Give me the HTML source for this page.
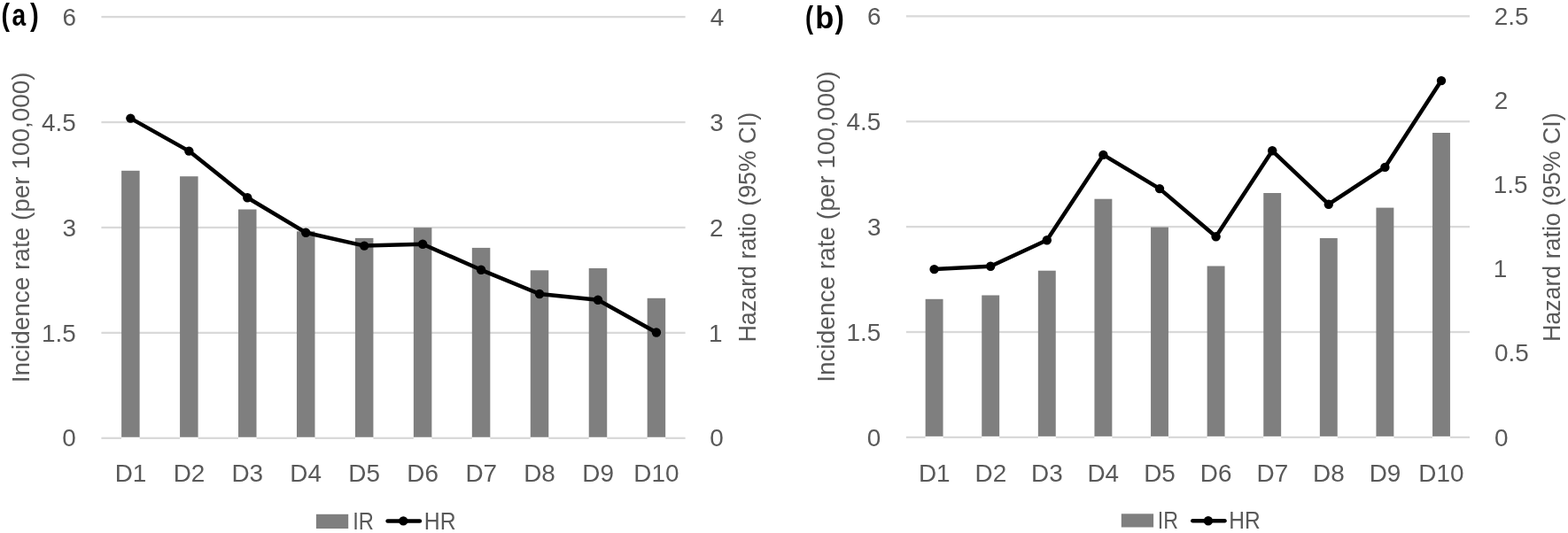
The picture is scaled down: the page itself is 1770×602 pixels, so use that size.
<!DOCTYPE html>
<html><head><meta charset="utf-8"><title>Incidence rate and hazard ratio by decile</title>
<style>
html,body{margin:0;padding:0;background:#fff;}
svg{display:block;}
text{font-family:'Liberation Sans', Arial, sans-serif;fill:#595959;}
</style></head>
<body>
<svg width="1770" height="602" viewBox="0 0 1770 602">
<rect width="1770" height="602" fill="#fff"/>
<rect x="114.4" y="17.95" width="659.2" height="2.3" fill="#d9d9d9"/>
<rect x="114.4" y="136.89" width="659.2" height="2.3" fill="#d9d9d9"/>
<rect x="114.4" y="255.83" width="659.2" height="2.3" fill="#d9d9d9"/>
<rect x="114.4" y="374.77" width="659.2" height="2.3" fill="#d9d9d9"/>
<rect x="114.4" y="493.71" width="659.2" height="2.3" fill="#d9d9d9"/>
<rect x="137.12" y="192.8" width="20.5" height="301.06" fill="#7f7f7f"/>
<rect x="137.12" y="493.86" width="20.5" height="2.4" fill="#fff"/>
<rect x="203.08" y="199.2" width="20.5" height="294.66" fill="#7f7f7f"/>
<rect x="203.08" y="493.86" width="20.5" height="2.4" fill="#fff"/>
<rect x="269.02" y="236.5" width="20.5" height="257.36" fill="#7f7f7f"/>
<rect x="269.02" y="493.86" width="20.5" height="2.4" fill="#fff"/>
<rect x="334.98" y="261.3" width="20.5" height="232.56" fill="#7f7f7f"/>
<rect x="334.98" y="493.86" width="20.5" height="2.4" fill="#fff"/>
<rect x="400.93" y="268.9" width="20.5" height="224.96" fill="#7f7f7f"/>
<rect x="400.93" y="493.86" width="20.5" height="2.4" fill="#fff"/>
<rect x="466.88" y="257.1" width="20.5" height="236.76" fill="#7f7f7f"/>
<rect x="466.88" y="493.86" width="20.5" height="2.4" fill="#fff"/>
<rect x="532.83" y="279.9" width="20.5" height="213.96" fill="#7f7f7f"/>
<rect x="532.83" y="493.86" width="20.5" height="2.4" fill="#fff"/>
<rect x="598.77" y="305.3" width="20.5" height="188.56" fill="#7f7f7f"/>
<rect x="598.77" y="493.86" width="20.5" height="2.4" fill="#fff"/>
<rect x="664.73" y="303" width="20.5" height="190.86" fill="#7f7f7f"/>
<rect x="664.73" y="493.86" width="20.5" height="2.4" fill="#fff"/>
<rect x="730.67" y="336.8" width="20.5" height="157.06" fill="#7f7f7f"/>
<rect x="730.67" y="493.86" width="20.5" height="2.4" fill="#fff"/>
<path d="M147.38,133.6 L213.33,170.6 L279.27,223.3 L345.23,262.7 L411.18,277.6 L477.12,275.7 L543.08,304.8 L609.02,332 L674.98,338.7 L740.92,375.5" fill="none" stroke="#000" stroke-width="4.5" stroke-linejoin="round" stroke-linecap="round"/>
<circle cx="147.38" cy="133.6" r="5.2" fill="#000"/>
<circle cx="213.33" cy="170.6" r="5.2" fill="#000"/>
<circle cx="279.27" cy="223.3" r="5.2" fill="#000"/>
<circle cx="345.23" cy="262.7" r="5.2" fill="#000"/>
<circle cx="411.18" cy="277.6" r="5.2" fill="#000"/>
<circle cx="477.12" cy="275.7" r="5.2" fill="#000"/>
<circle cx="543.08" cy="304.8" r="5.2" fill="#000"/>
<circle cx="609.02" cy="332" r="5.2" fill="#000"/>
<circle cx="674.98" cy="338.7" r="5.2" fill="#000"/>
<circle cx="740.92" cy="375.5" r="5.2" fill="#000"/>
<text x="70.47" y="28.7" font-size="27.9">6</text>
<text x="47.04" y="147.64" font-size="27.9">4.5</text>
<text x="70.47" y="266.58" font-size="27.9">3</text>
<text x="47.04" y="385.52" font-size="27.9">1.5</text>
<text x="70.19" y="504.46" font-size="27.9">0</text>
<text x="801.74" y="28.7" font-size="27.9">4</text>
<text x="801.18" y="147.64" font-size="27.9">3</text>
<text x="800.9" y="266.58" font-size="27.9">2</text>
<text x="800.07" y="385.52" font-size="27.9">1</text>
<text x="801.18" y="504.46" font-size="27.9">0</text>
<text x="129.7" y="543.6" font-size="27.9">D1</text>
<text x="195.65" y="543.6" font-size="27.9">D2</text>
<text x="261.46" y="543.6" font-size="27.9">D3</text>
<text x="327.27" y="543.6" font-size="27.9">D4</text>
<text x="393.36" y="543.6" font-size="27.9">D5</text>
<text x="459.31" y="543.6" font-size="27.9">D6</text>
<text x="525.4" y="543.6" font-size="27.9">D7</text>
<text x="591.21" y="543.6" font-size="27.9">D8</text>
<text x="657.3" y="543.6" font-size="27.9">D9</text>
<text x="715.3" y="543.6" font-size="27.9">D10</text>
<text transform="translate(33.4,432.31) rotate(-90)" x="0" y="0" font-size="27.9" textLength="350.99" lengthAdjust="spacingAndGlyphs">Incidence rate (per 100,000)</text>
<text transform="translate(852.9,386.55) rotate(-90)" x="0" y="0" font-size="27.9" textLength="259.76" lengthAdjust="spacingAndGlyphs">Hazard ratio (95% CI)</text>
<rect x="356.9" y="580.8" width="36.3" height="16.2" fill="#7f7f7f"/>
<text x="398.17" y="598.1" font-size="27.9" textLength="23.72" lengthAdjust="spacingAndGlyphs">IR</text>
<line x1="437.6" y1="588.4" x2="473.9" y2="588.4" stroke="#000" stroke-width="4.5" stroke-linecap="round"/>
<circle cx="455.3" cy="588.4" r="5.2" fill="#000"/>
<text x="478.72" y="598.1" font-size="27.9" textLength="35.83" lengthAdjust="spacingAndGlyphs">HR</text>
<rect x="1022.9" y="17.2" width="636.1" height="2.3" fill="#d9d9d9"/>
<rect x="1022.9" y="136.09" width="636.1" height="2.3" fill="#d9d9d9"/>
<rect x="1022.9" y="254.98" width="636.1" height="2.3" fill="#d9d9d9"/>
<rect x="1022.9" y="373.87" width="636.1" height="2.3" fill="#d9d9d9"/>
<rect x="1022.9" y="492.76" width="636.1" height="2.3" fill="#d9d9d9"/>
<rect x="1044.65" y="337.8" width="19.9" height="155.11" fill="#7f7f7f"/>
<rect x="1044.65" y="492.91" width="19.9" height="2.4" fill="#fff"/>
<rect x="1108.25" y="333.5" width="19.9" height="159.41" fill="#7f7f7f"/>
<rect x="1108.25" y="492.91" width="19.9" height="2.4" fill="#fff"/>
<rect x="1171.85" y="305.7" width="19.9" height="187.21" fill="#7f7f7f"/>
<rect x="1171.85" y="492.91" width="19.9" height="2.4" fill="#fff"/>
<rect x="1235.45" y="224.7" width="19.9" height="268.21" fill="#7f7f7f"/>
<rect x="1235.45" y="492.91" width="19.9" height="2.4" fill="#fff"/>
<rect x="1299.05" y="256.6" width="19.9" height="236.31" fill="#7f7f7f"/>
<rect x="1299.05" y="492.91" width="19.9" height="2.4" fill="#fff"/>
<rect x="1362.65" y="300.5" width="19.9" height="192.41" fill="#7f7f7f"/>
<rect x="1362.65" y="492.91" width="19.9" height="2.4" fill="#fff"/>
<rect x="1426.25" y="218" width="19.9" height="274.91" fill="#7f7f7f"/>
<rect x="1426.25" y="492.91" width="19.9" height="2.4" fill="#fff"/>
<rect x="1489.85" y="269" width="19.9" height="223.91" fill="#7f7f7f"/>
<rect x="1489.85" y="492.91" width="19.9" height="2.4" fill="#fff"/>
<rect x="1553.45" y="234.6" width="19.9" height="258.31" fill="#7f7f7f"/>
<rect x="1553.45" y="492.91" width="19.9" height="2.4" fill="#fff"/>
<rect x="1617.05" y="150" width="19.9" height="342.91" fill="#7f7f7f"/>
<rect x="1617.05" y="492.91" width="19.9" height="2.4" fill="#fff"/>
<path d="M1054.6,304.1 L1118.2,300.8 L1181.8,271.2 L1245.4,174.9 L1309,213.1 L1372.6,267.2 L1436.2,170.3 L1499.8,230.7 L1563.4,188.9 L1627,91.1" fill="none" stroke="#000" stroke-width="4.5" stroke-linejoin="round" stroke-linecap="round"/>
<circle cx="1054.6" cy="304.1" r="5.2" fill="#000"/>
<circle cx="1118.2" cy="300.8" r="5.2" fill="#000"/>
<circle cx="1181.8" cy="271.2" r="5.2" fill="#000"/>
<circle cx="1245.4" cy="174.9" r="5.2" fill="#000"/>
<circle cx="1309" cy="213.1" r="5.2" fill="#000"/>
<circle cx="1372.6" cy="267.2" r="5.2" fill="#000"/>
<circle cx="1436.2" cy="170.3" r="5.2" fill="#000"/>
<circle cx="1499.8" cy="230.7" r="5.2" fill="#000"/>
<circle cx="1563.4" cy="188.9" r="5.2" fill="#000"/>
<circle cx="1627" cy="91.1" r="5.2" fill="#000"/>
<text x="978.97" y="27.95" font-size="27.9">6</text>
<text x="955.54" y="146.84" font-size="27.9">4.5</text>
<text x="978.97" y="265.73" font-size="27.9">3</text>
<text x="955.54" y="384.62" font-size="27.9">1.5</text>
<text x="978.69" y="503.51" font-size="27.9">0</text>
<text x="1686.7" y="27.95" font-size="27.9">2.5</text>
<text x="1686.7" y="123.06" font-size="27.9">2</text>
<text x="1685.87" y="218.17" font-size="27.9">1.5</text>
<text x="1685.87" y="313.28" font-size="27.9">1</text>
<text x="1686.98" y="408.39" font-size="27.9">0.5</text>
<text x="1686.98" y="503.5" font-size="27.9">0</text>
<text x="1036.93" y="543.6" font-size="27.9">D1</text>
<text x="1100.53" y="543.6" font-size="27.9">D2</text>
<text x="1163.99" y="543.6" font-size="27.9">D3</text>
<text x="1227.45" y="543.6" font-size="27.9">D4</text>
<text x="1291.19" y="543.6" font-size="27.9">D5</text>
<text x="1354.79" y="543.6" font-size="27.9">D6</text>
<text x="1418.53" y="543.6" font-size="27.9">D7</text>
<text x="1481.99" y="543.6" font-size="27.9">D8</text>
<text x="1545.73" y="543.6" font-size="27.9">D9</text>
<text x="1601.37" y="543.6" font-size="27.9">D10</text>
<text transform="translate(941.7,431.82) rotate(-90)" x="0" y="0" font-size="27.9" textLength="351.7" lengthAdjust="spacingAndGlyphs">Incidence rate (per 100,000)</text>
<text transform="translate(1761,386.04) rotate(-90)" x="0" y="0" font-size="27.9" textLength="258.75" lengthAdjust="spacingAndGlyphs">Hazard ratio (95% CI)</text>
<rect x="1265.8" y="580.3" width="36.3" height="15.2" fill="#7f7f7f"/>
<text x="1306.71" y="597" font-size="27.9" textLength="23.26" lengthAdjust="spacingAndGlyphs">IR</text>
<line x1="1346.3" y1="588.2" x2="1382.5" y2="588.2" stroke="#000" stroke-width="4.5" stroke-linecap="round"/>
<circle cx="1363.9" cy="588.2" r="5.2" fill="#000"/>
<text x="1387.34" y="597" font-size="27.9" textLength="35.39" lengthAdjust="spacingAndGlyphs">HR</text>
<text y="28.8" font-size="35" font-weight="bold" style="fill:#000"><tspan x="1.57" textLength="9.52" lengthAdjust="spacingAndGlyphs">(</tspan><tspan x="13.46" textLength="15.64" lengthAdjust="spacingAndGlyphs">a</tspan><tspan x="34" textLength="9.76" lengthAdjust="spacingAndGlyphs">)</tspan></text>
<text y="32.3" font-size="35" font-weight="bold" style="fill:#000"><tspan x="908.94" textLength="9.04" lengthAdjust="spacingAndGlyphs">(</tspan><tspan x="920.18" textLength="21.14" lengthAdjust="spacingAndGlyphs">b</tspan><tspan x="942.5" textLength="10.35" lengthAdjust="spacingAndGlyphs">)</tspan></text>
</svg>
</body></html>
